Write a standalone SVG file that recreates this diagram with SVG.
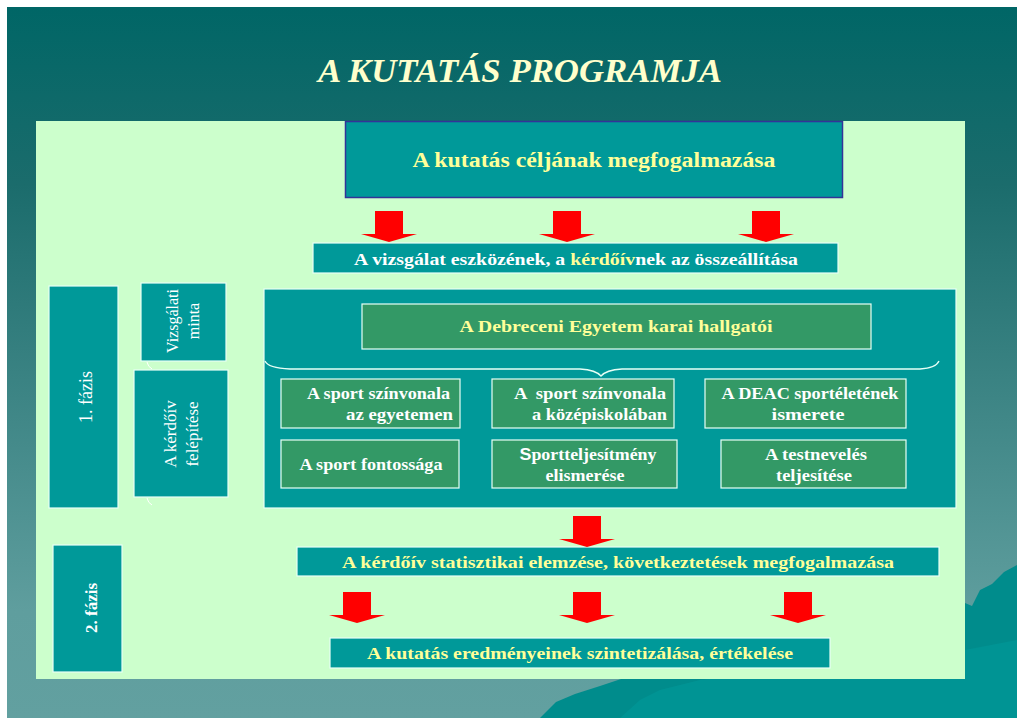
<svg xmlns="http://www.w3.org/2000/svg" width="1017" height="718" viewBox="0 0 1017 718">
<defs>
<linearGradient id="bg" x1="0" y1="0" x2="0" y2="1">
<stop offset="0" stop-color="#006666"/>
<stop offset="0.25" stop-color="#1b6c6c"/>
<stop offset="0.85" stop-color="#5f9e9e"/>
<stop offset="1" stop-color="#62a0a0"/>
</linearGradient>
<polygon id="arr" points="-14,0 14,0 14,23 28,23 0,31 -28,23 -14,23"/>
</defs>
<style>
.teal{fill:#009999;stroke:#e6fff6;stroke-width:1.2}
.green{fill:#339966;stroke:#e6fff6;stroke-width:1.2}
.arrow{fill:#ff0000}
.t{font-family:"Liberation Serif",serif;font-weight:bold;text-anchor:middle}
.n{font-family:"Liberation Serif",serif;font-weight:bold;fill:#ffffff;font-size:16.5px;text-anchor:middle}
.e{text-anchor:end}
.w{fill:#ffffff}
.y{fill:#ffff99}
.rot{font-family:"Liberation Serif",serif;fill:#ffffff;text-anchor:middle}
</style>
<rect x="0" y="0" width="1017" height="718" fill="#ffffff"/>
<rect x="7" y="7" width="1010" height="711" fill="url(#bg)"/>
<polygon points="540,718 556,702 575,694 600,686 630,676 700,650 800,620 900,610 965,603 972,606 980,590 992,584 1004,572 1017,565 1017,718" fill="#008c8c"/>
<polygon points="620,718 640,700 660,690 700,680 965,650 1017,640 1017,718" fill="#009494"/>
<text x="520" y="82" font-family="'Liberation Serif',serif" font-weight="bold" font-style="italic" font-size="33" fill="#ffffcc" text-anchor="middle" textLength="404" lengthAdjust="spacingAndGlyphs">A KUTATÁS PROGRAMJA</text>
<rect x="36" y="121" width="929" height="558" fill="#ccffcc"/>

<g id="node-cel">
<rect x="345.5" y="121.5" width="497" height="76" fill="#009999" stroke="#333399" stroke-width="1.5"/>
<text class="t y" x="594" y="167" font-size="20" textLength="363" lengthAdjust="spacingAndGlyphs">A kutatás céljának megfogalmazása</text>
</g>
<g id="node-eszkoz">
<rect class="teal" x="313" y="243" width="525" height="30"/>
<text class="t w" x="576" y="265" font-size="17" textLength="444" lengthAdjust="spacingAndGlyphs">A vizsgálat eszközének, a <tspan fill="#ffff99">kérdőív</tspan>nek az összeállítása</text>
</g>
<g id="node-fazis1">
<rect class="teal" x="49" y="286" width="69" height="222"/>
<text class="rot" transform="translate(92,397) rotate(-90)" font-size="18">1. fázis</text>
</g>
<g id="node-minta">
<rect class="teal" x="141" y="283" width="85" height="78"/>
<text class="rot" transform="translate(178,321) rotate(-90)" font-size="16">Vizsgálati</text>
<text class="rot" transform="translate(199,321) rotate(-90)" font-size="16">minta</text>
</g>
<g id="node-felepites">
<rect class="teal" x="134" y="370" width="94" height="127"/>
<text class="rot" transform="translate(176,434) rotate(-90)" font-size="17">A kérdőív</text>
<text class="rot" transform="translate(198,434) rotate(-90)" font-size="17">felépítése</text>
</g>
<g id="node-panel">
<rect class="teal" x="264" y="289" width="692" height="219"/>
</g>
<g id="node-debrecen">
<rect class="green" x="362" y="304" width="509" height="45"/>
<text class="t y" x="616" y="332" font-size="17" textLength="313" lengthAdjust="spacingAndGlyphs">A Debreceni Egyetem karai hallgatói</text>
</g>
<g id="node-egyetem">
<rect class="green" x="281" y="379" width="179" height="49"/>
<text class="n e" x="450" y="399" textLength="143" lengthAdjust="spacingAndGlyphs">A sport színvonala</text>
<text class="n e" x="453" y="420" textLength="107" lengthAdjust="spacingAndGlyphs">az egyetemen</text>
</g>
<g id="node-kozepiskola">
<rect class="green" x="492" y="379" width="182" height="49"/>
<text class="n e" x="666" y="399" xml:space="preserve" textLength="152" lengthAdjust="spacingAndGlyphs">A  sport színvonala</text>
<text class="n e" x="667" y="420" textLength="135" lengthAdjust="spacingAndGlyphs">a középiskolában</text>
</g>
<g id="node-deac">
<rect class="green" x="705" y="379" width="201" height="49"/>
<text class="n" x="810" y="399" textLength="177" lengthAdjust="spacingAndGlyphs">A DEAC sportéletének</text>
<text class="n" x="808" y="420" textLength="73" lengthAdjust="spacingAndGlyphs">ismerete</text>
</g>
<g id="node-fontossag">
<rect class="green" x="281" y="440" width="178" height="48"/>
<text class="n" x="371" y="470" textLength="143" lengthAdjust="spacingAndGlyphs">A sport fontossága</text>
</g>
<g id="node-elismeres">
<rect class="green" x="492" y="440" width="185" height="48"/>
<text class="n" x="588" y="460" textLength="137" lengthAdjust="spacingAndGlyphs"><tspan font-family="'Liberation Sans',sans-serif">S</tspan>portteljesítmény</text>
<text class="n" x="585" y="481" textLength="79" lengthAdjust="spacingAndGlyphs">elismerése</text>
</g>
<g id="node-testneveles">
<rect class="green" x="721" y="440" width="185" height="48"/>
<text class="n" x="816" y="460" textLength="102" lengthAdjust="spacingAndGlyphs">A testnevelés</text>
<text class="n" x="814" y="481" textLength="76" lengthAdjust="spacingAndGlyphs">teljesítése</text>
</g>
<g id="node-elemzes">
<rect class="teal" x="297" y="547" width="642" height="29"/>
<text class="t y" x="618" y="568" font-size="17" textLength="552" lengthAdjust="spacingAndGlyphs">A kérdőív statisztikai elemzése, következtetések megfogalmazása</text>
</g>
<g id="node-fazis2">
<rect class="teal" x="53" y="545" width="69" height="127"/>
<text class="rot" transform="translate(97,608) rotate(-90)" font-size="17" font-weight="bold">2. fázis</text>
</g>
<g id="node-szintezis">
<rect class="teal" x="330" y="638" width="500" height="30"/>
<text class="t y" x="580" y="659" font-size="17" textLength="426" lengthAdjust="spacingAndGlyphs">A kutatás eredményeinek szintetizálása, értékelése</text>
</g>

<g id="connectors">
<use href="#arr" class="arrow" x="389" y="211"/>
<use href="#arr" class="arrow" x="567" y="211"/>
<use href="#arr" class="arrow" x="766" y="211"/>
<use href="#arr" class="arrow" x="587" y="516"/>
<use href="#arr" class="arrow" x="357" y="592"/>
<use href="#arr" class="arrow" x="587" y="592"/>
<use href="#arr" class="arrow" x="798" y="592"/>
<path d="M265,361 Q268,368 290,369 L580,369 Q596,370 601,376 Q606,370 622,369 L920,369 Q936,368 939,361" fill="none" stroke="#e6fff6" stroke-width="1.3"/>
<path d="M147,362 Q148,367 152,369" fill="none" stroke="#ffffff" stroke-width="1"/>
<path d="M147,498 Q148,503 152,505" fill="none" stroke="#ffffff" stroke-width="1"/>
</g>
</svg>
